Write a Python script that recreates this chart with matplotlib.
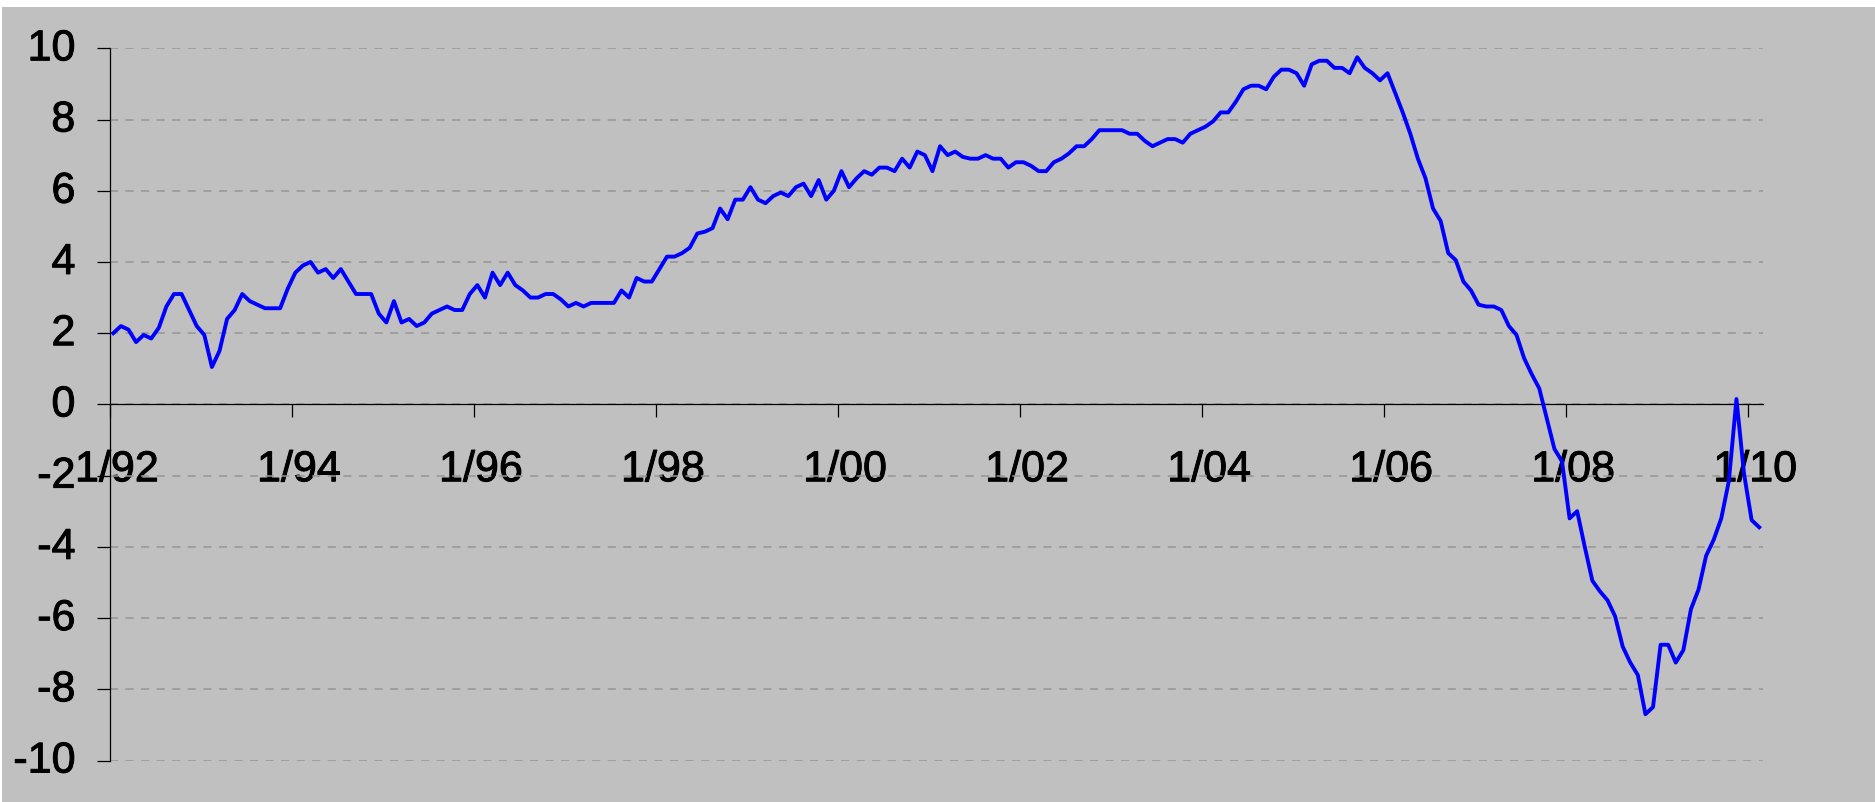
import matplotlib
matplotlib.use("Agg")
import matplotlib.pyplot as plt
import matplotlib.patheffects as pe
from matplotlib.patches import Rectangle
from matplotlib.transforms import ScaledTranslation
import numpy as np

# Monthly values, Jan 1992 .. Feb 2010
values = [
    2.0, 2.2, 2.1, 1.75, 1.95, 1.85, 2.15, 2.75, 3.1, 3.1, 2.65, 2.2,      # 1992
    1.95, 1.05, 1.5, 2.4, 2.65, 3.1, 2.9, 2.8, 2.7, 2.7, 2.7, 3.25,        # 1993
    3.7, 3.9, 4.0, 3.7, 3.8, 3.55, 3.8, 3.45, 3.1, 3.1, 3.1, 2.55,         # 1994
    2.3, 2.9, 2.3, 2.4, 2.2, 2.3, 2.55, 2.65, 2.75, 2.65, 2.65, 3.1,       # 1995
    3.35, 3.0, 3.7, 3.35, 3.7, 3.35, 3.2, 3.0, 3.0, 3.1, 3.1, 2.95,        # 1996
    2.75, 2.85, 2.75, 2.85, 2.85, 2.85, 2.85, 3.2, 3.0, 3.55, 3.45, 3.45,  # 1997
    3.8, 4.15, 4.15, 4.25, 4.4, 4.8, 4.85, 4.95, 5.5, 5.2, 5.75, 5.75,     # 1998
    6.1, 5.75, 5.65, 5.85, 5.95, 5.85, 6.1, 6.2, 5.85, 6.3, 5.75, 6.0,     # 1999
    6.55, 6.1, 6.35, 6.55, 6.45, 6.65, 6.65, 6.55, 6.9, 6.65, 7.1, 7.0,    # 2000
    6.55, 7.25, 7.0, 7.1, 6.95, 6.9, 6.9, 7.0, 6.9, 6.9, 6.65, 6.8,        # 2001
    6.8, 6.7, 6.55, 6.55, 6.8, 6.9, 7.05, 7.25, 7.25, 7.45, 7.7, 7.7,      # 2002
    7.7, 7.7, 7.6, 7.6, 7.4, 7.25, 7.35, 7.45, 7.45, 7.35, 7.6, 7.7,       # 2003
    7.8, 7.95, 8.2, 8.2, 8.5, 8.85, 8.95, 8.95, 8.85, 9.2, 9.4, 9.4,       # 2004
    9.3, 8.95, 9.55, 9.65, 9.65, 9.45, 9.45, 9.3, 9.75, 9.45, 9.3, 9.1,    # 2005
    9.3, 8.75, 8.2, 7.6, 6.9, 6.35, 5.5, 5.15, 4.25, 4.05, 3.45, 3.2,      # 2006
    2.8, 2.75, 2.75, 2.65, 2.2, 1.95, 1.3, 0.85, 0.45, -0.4, -1.25, -1.6,  # 2007
    -3.2, -3.0, -4.0, -4.95, -5.25, -5.5, -5.95, -6.8, -7.25, -7.6, -8.7, -8.5,  # 2008
    -6.75, -6.75, -7.25, -6.9, -5.75, -5.2, -4.25, -3.8, -3.2, -2.15, 0.15, -1.95,  # 2009
    -3.25, -3.45,                                                            # 2010
]
x_labels = ["1/92", "1/94", "1/96", "1/98", "1/00", "1/02", "1/04", "1/06", "1/08", "1/10"]
y_ticks = [-10, -8, -6, -4, -2, 0, 2, 4, 6, 8, 10]
y_labels = ["-10", "-8", "-6", "-4", "-2", "0", "2", "4", "6", "8", "10"]

plt.rcParams['font.family'] = ['Liberation Sans', 'DejaVu Sans']
plt.rcParams['lines.scale_dashes'] = False

W, H, DPI = 1875, 802, 100
fig = plt.figure(figsize=(W / DPI, H / DPI), dpi=DPI, facecolor='white')
fig.patches.append(Rectangle((2 / W, 0), 1 - 2 / W, 1 - 7 / H, transform=fig.transFigure,
                             facecolor='#C0C0C0', edgecolor='none', zorder=-10))

left, right, top, bottom = 109.5, 1763, 48.3, 760.5
ax = fig.add_axes([left / W, 1 - bottom / H, (right - left) / W, (bottom - top) / H])
ax.set_facecolor('none')

n = len(values)
xs = np.arange(n) + 0.5
ax.plot(xs, values, color='#0000FF', lw=2.8, zorder=3)

ax.set_xlim(0, n)
ax.set_ylim(-10, 10)

ax.set_yticks(y_ticks)
ax.set_yticklabels(y_labels)
ax.set_xticks(np.arange(len(x_labels)) * 24)
ax.set_xticklabels(x_labels)

ax.grid(axis='y', color='#969696', lw=1.1, linestyle=(0, (5.8, 5.4)))
ax.grid(axis='x', visible=False)

for s in ['top', 'right']:
    ax.spines[s].set_visible(False)
ax.spines['bottom'].set_position(('data', 0))
for s in ['left', 'bottom']:
    ax.spines[s].set_color('black')
    ax.spines[s].set_linewidth(0.9)

ax.tick_params(axis='x', direction='out', length=9, width=0.9, pad=24,
               labelsize=31, colors='black')
ax.tick_params(axis='y', direction='out', length=9.1, width=0.9, pad=15.5,
               labelsize=31, colors='black')

stroke = [pe.withStroke(linewidth=0.7, foreground='black')]
dx = ScaledTranslation(7.3 / DPI, 0, fig.dpi_scale_trans)
for lbl in ax.get_xticklabels():
    lbl.set_transform(lbl.get_transform() + dx)
    lbl.set_path_effects(stroke)
dy = ScaledTranslation(0, 3.5 / DPI, fig.dpi_scale_trans)
for lbl in ax.get_yticklabels():
    lbl.set_transform(lbl.get_transform() + dy)
    lbl.set_path_effects(stroke)

fig.savefig('out.png', dpi=DPI, facecolor=fig.get_facecolor())
